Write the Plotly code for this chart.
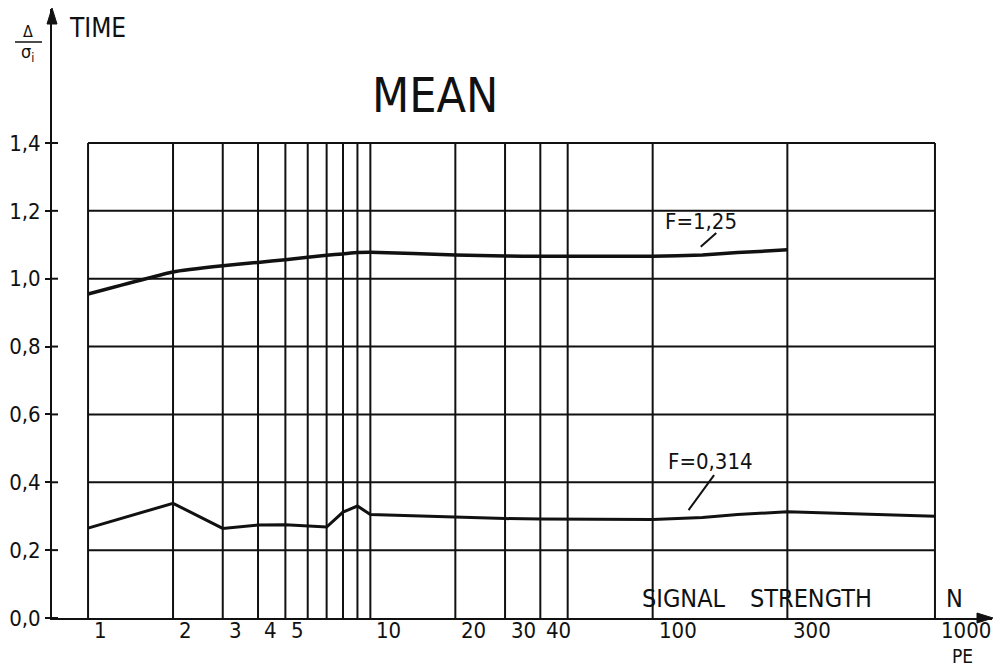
import math
import plotly.graph_objects as go

# Signal strength N (photoelectrons) and normalised mean time shift for two F values
n_f125 = [1, 2, 3, 4, 5, 6, 7, 8, 9, 10, 20, 30, 40, 50, 100, 150, 200, 300]
mean_f125 = [0.955, 1.02, 1.038, 1.048, 1.056, 1.063, 1.069, 1.073, 1.077, 1.078,
             1.07, 1.067, 1.066, 1.066, 1.066, 1.07, 1.077, 1.085]

n_f0314 = [1, 2, 3, 4, 5, 6, 7, 8, 9, 10, 20, 30, 40, 50, 100, 150, 200, 300, 500, 1000]
mean_f0314 = [0.265, 0.338, 0.264, 0.274, 0.275, 0.271, 0.268, 0.312, 0.33, 0.305,
              0.297, 0.293, 0.292, 0.291, 0.29, 0.296, 0.305, 0.313, 0.308, 0.3]

grid_n = [1, 2, 3, 4, 5, 6, 7, 8, 9, 10, 20, 30, 40, 50, 100, 300, 1000]
grid_mean = [0.2, 0.4, 0.6, 0.8, 1.0, 1.2, 1.4]

x_tick_vals = [1, 2, 3, 4, 5, 10, 20, 30, 40, 100, 300, 1000]
x_tick_text = ["1", "2", "3", "4", "5", "10", "20", "30", "40", "100", "300", "1000"]
y_tick_vals = [0.0, 0.2, 0.4, 0.6, 0.8, 1.0, 1.2, 1.4]
y_tick_text = ["0,0", "0,2", "0,4", "0,6", "0,8", "1,0", "1,2", "1,4"]

FONT = "DejaVu Sans Condensed, DejaVu Sans, sans-serif"
INK = "#111111"

# plot-area geometry in pixels (used to place paper-referenced decorations)
W, H = 1001, 667
ML, MR, MT, MB = 52, 9, 9, 49
PW, PH = W - ML - MR, H - MT - MB


def px(xp):
    return (xp - ML) / PW


def py(yp):
    return 1 - (yp - MT) / PH


fig = go.Figure()

fig.add_trace(go.Scatter(x=n_f125, y=mean_f125, mode="lines",
                         line=dict(color=INK, width=3.5, shape="spline", smoothing=0.4),
                         hoverinfo="skip", showlegend=False))
fig.add_trace(go.Scatter(x=n_f0314, y=mean_f0314, mode="lines",
                         line=dict(color=INK, width=3),
                         hoverinfo="skip", showlegend=False))

shapes = []
# grid box: vertical lines at each grid N, horizontal lines at each grid level
for n in grid_n:
    shapes.append(dict(type="line", xref="x", yref="y", x0=n, x1=n,
                       y0=0, y1=grid_mean[-1], line=dict(color=INK, width=2), layer="below"))
for m in grid_mean:
    shapes.append(dict(type="line", xref="x", yref="y", x0=grid_n[0], x1=grid_n[-1],
                       y0=m, y1=m, line=dict(color=INK, width=2), layer="below"))
# inner half of the y ticks, so each tick crosses the axis
for v in y_tick_vals:
    shapes.append(dict(type="line", xref="paper", yref="y", x0=0, x1=px(ML + 6),
                       y0=v, y1=v, line=dict(color=INK, width=2)))
# leader strokes from the curve labels
shapes.append(dict(type="line", xref="x", yref="y", x0=148, y0=1.094, x1=168, y1=1.135,
                   line=dict(color=INK, width=2)))
shapes.append(dict(type="line", xref="x", yref="y", x0=134, y0=0.318, x1=165, y1=0.421,
                   line=dict(color=INK, width=2)))
# fraction bar of the y-axis quantity
shapes.append(dict(type="line", xref="paper", yref="paper", x0=px(15), x1=px(42),
                   y0=py(42), y1=py(42), line=dict(color=INK, width=1.5)))
# arrowheads on both axes
shapes.append(dict(type="path", xref="paper", yref="paper", fillcolor=INK,
                   line=dict(color=INK, width=1),
                   path=f"M {px(ML)} {py(MT - 1)} L {px(ML - 5)} {py(MT + 15)} "
                        f"L {px(ML + 5)} {py(MT + 15)} Z"))
shapes.append(dict(type="path", xref="paper", yref="paper", fillcolor=INK,
                   line=dict(color=INK, width=1),
                   path=f"M {px(W - MR + 1)} {py(H - MB)} L {px(W - MR - 15)} {py(H - MB - 5)} "
                        f"L {px(W - MR - 15)} {py(H - MB + 5)} Z"))

annotations = [
    dict(text="MEAN", x=px(435), y=py(95), xref="paper", yref="paper",
         xanchor="center", yanchor="middle",
         showarrow=False, font=dict(family=FONT, size=48, color=INK)),
    dict(text="TIME", x=px(67), y=py(28), xref="paper", yref="paper",
         xanchor="left", yanchor="middle",
         showarrow=False, font=dict(family=FONT, size=26, color=INK)),
    dict(text="Δ", x=px(28), y=py(32), xref="paper", yref="paper",
         xanchor="center", yanchor="middle",
         showarrow=False, font=dict(family=FONT, size=16, color=INK)),
    dict(text="σ<sub>i</sub>", x=px(27), y=py(53), xref="paper", yref="paper",
         xanchor="center", yanchor="middle",
         showarrow=False, font=dict(family=FONT, size=18, color=INK)),
    dict(text="F=1,25", x=math.log10(148), y=1.168, xref="x", yref="y",
         showarrow=False, font=dict(family=FONT, size=22, color=INK)),
    dict(text="F=0,314", x=math.log10(160), y=0.462, xref="x", yref="y",
         showarrow=False, font=dict(family=FONT, size=22, color=INK)),
    dict(text="SIGNAL", x=math.log10(90), y=0.057, xref="x", yref="y", xanchor="left",
         showarrow=False, font=dict(family=FONT, size=25, color=INK)),
    dict(text="STRENGTH", x=math.log10(218), y=0.057, xref="x", yref="y", xanchor="left",
         showarrow=False, font=dict(family=FONT, size=25, color=INK)),
    dict(text="N", x=math.log10(1075), y=0.057, xref="x", yref="y", xanchor="left",
         showarrow=False, font=dict(family=FONT, size=25, color=INK)),
    dict(text="PE", x=math.log10(1250), y=py(656), xref="x", yref="paper",
         xanchor="center", yanchor="middle",
         showarrow=False, font=dict(family=FONT, size=19, color=INK)),
]
# x tick labels sit just to the right of their grid lines
for v, t in zip(x_tick_vals, x_tick_text):
    annotations.append(dict(text=t, x=math.log10(v) + 4 / 282, y=py(630),
                            xref="x", yref="paper", xanchor="left", yanchor="middle",
                            showarrow=False, font=dict(family=FONT, size=22, color=INK)))

fig.update_layout(
    width=W, height=H,
    margin=dict(l=ML, r=MR, t=MT, b=MB, autoexpand=False),
    paper_bgcolor="white", plot_bgcolor="white",
    shapes=shapes, annotations=annotations,
    font=dict(family=FONT, color=INK),
)
fig.update_xaxes(type="log", range=[-0.1277, 3.202], showgrid=False, zeroline=False,
                 showline=True, linecolor=INK, linewidth=2,
                 showticklabels=False, ticks="", automargin=False)
fig.update_yaxes(range=[0, PH / 339.3], showgrid=False, zeroline=False,
                 showline=True, linecolor=INK, linewidth=2,
                 tickvals=y_tick_vals, ticktext=y_tick_text, ticks="outside",
                 ticklen=5, tickwidth=2, tickcolor=INK, automargin=False,
                 tickfont=dict(family=FONT, size=22, color=INK))

fig.write_html("out.html", config={"displayModeBar": False})
